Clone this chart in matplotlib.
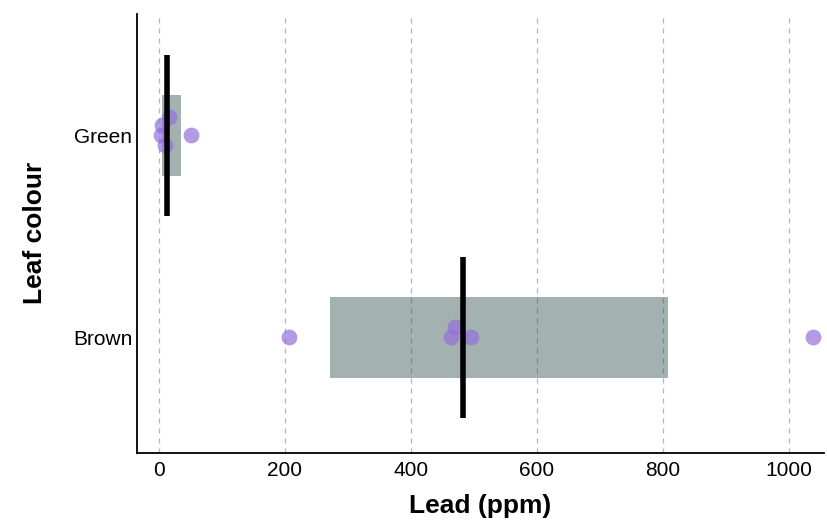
import numpy as np
import matplotlib.pyplot as plt

plt.rcParams['font.family'] = ['Liberation Sans', 'DejaVu Sans']

categories = ['Brown', 'Green']
box_low = [271, 5]
box_high = [808, 36]
medians = [483, 13]

brown_lead = [206, 470, 463, 495, 1037]
brown_jitter = [0.0, 0.05, 0.0, 0.0, 0.0]
green_lead = [16, 6, 3, 52, 10]
green_jitter = [0.09, 0.05, 0.0, 0.0, -0.05]

fig = plt.figure(figsize=(8.28, 5.22), dpi=100)
ax = fig.add_axes([0.165, 0.133, 0.83, 0.84])

for i, cat in enumerate(categories):
    ax.barh(i, box_high[i] - box_low[i], left=box_low[i], height=0.4,
            color='#2F4F4F', alpha=0.44, linewidth=0, zorder=2)

ax.scatter(brown_lead, np.array(brown_jitter) + 0, s=130, color='#9370DB',
           alpha=0.7, linewidths=0, zorder=3)
ax.scatter(green_lead, np.array(green_jitter) + 1, s=130, color='#9370DB',
           alpha=0.7, linewidths=0, zorder=3)

for i, m in enumerate(medians):
    ax.plot([m, m], [i - 0.4, i + 0.4], color='black', linewidth=4,
            solid_capstyle='butt', zorder=4)

ax.set_xlim(-35, 1055)
ax.set_ylim(-0.57, 1.6)
ax.set_xticks([0, 200, 400, 600, 800, 1000])
ax.set_yticks([0, 1])
ax.set_yticklabels(categories)
ax.tick_params(axis='both', labelsize=15, length=0)
ax.tick_params(axis='x', pad=6)
ax.tick_params(axis='y', pad=3)
ax.grid(axis='x', linestyle=(0, (4, 4)), color='#b4b4b4', linewidth=0.9, zorder=0)
ax.set_axisbelow(True)

for s in ['top', 'right']:
    ax.spines[s].set_visible(False)
for s in ['left', 'bottom']:
    ax.spines[s].set_linewidth(1.3)

ax.set_xlabel('Lead (ppm)', fontsize=19, fontweight='bold', labelpad=10)
ax.set_ylabel('Leaf colour', fontsize=19, fontweight='bold', labelpad=19)

fig.savefig('out.png', dpi=100)
